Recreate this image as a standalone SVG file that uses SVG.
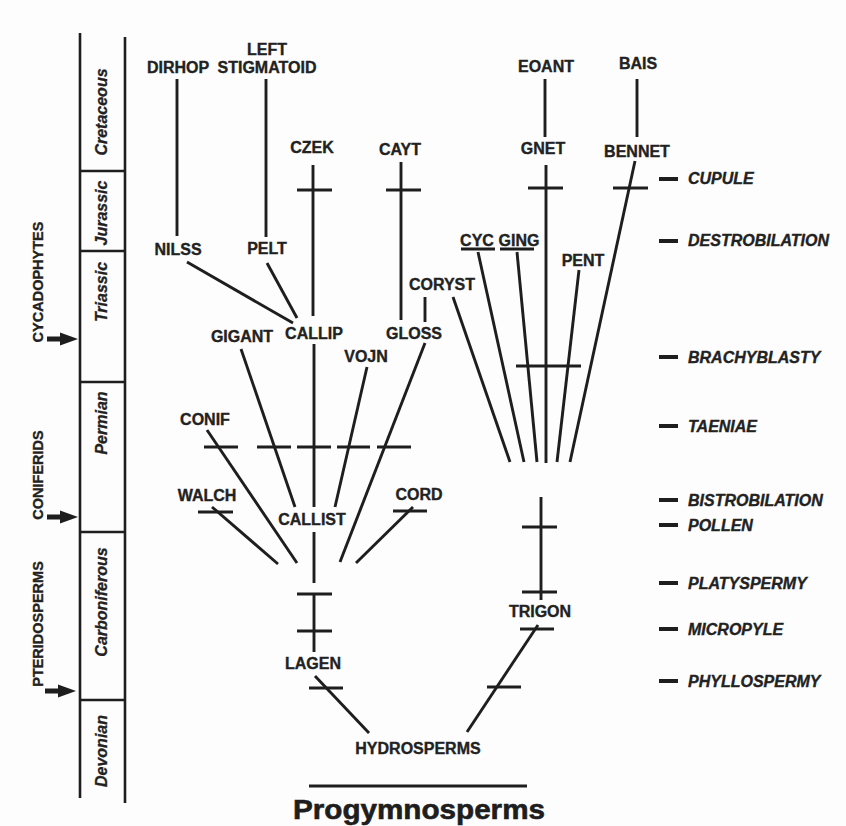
<svg xmlns="http://www.w3.org/2000/svg" width="846" height="826" viewBox="0 0 846 826">
<style>
  .bg{fill:#fdfdfd}
  .ln{stroke:#1e1e1e;stroke-width:2.9;fill:none;stroke-linecap:butt}
  .tl{stroke:#1e1e1e;stroke-width:2.6;fill:none}
  .tk{stroke:#1e1e1e;stroke-width:2.9;fill:none}
  .dash{stroke:#1e1e1e;stroke-width:4;fill:none}
  .nd{font-family:"Liberation Sans",Arial,sans-serif;font-weight:bold;font-size:16px;fill:#222;stroke:#222;stroke-width:0.35;text-anchor:middle}
  .ch{font-family:"Liberation Sans",Arial,sans-serif;font-weight:bold;font-style:italic;font-size:16px;fill:#222;stroke:#222;stroke-width:0.35}
  .per{font-family:"Liberation Sans",Arial,sans-serif;font-weight:bold;font-style:italic;font-size:16px;fill:#222;stroke:#222;stroke-width:0.3;text-anchor:middle}
  .grp{font-family:"Liberation Sans",Arial,sans-serif;font-weight:bold;font-size:14.5px;fill:#222;stroke:#222;stroke-width:0.35;text-anchor:middle}
  .arr{fill:#1e1e1e}
  .title{font-family:"Liberation Sans",Arial,sans-serif;font-weight:bold;font-size:27px;fill:#1e1e1e;stroke:#1e1e1e;stroke-width:0.6;text-anchor:middle}
</style>
<defs>
  <path id="arrow" d="M0,-2.6 L13,-2.6 L13,-6.5 L31,0 L13,6.5 L13,2.6 L0,2.6 Z"/>
</defs>
<rect class="bg" x="0" y="0" width="846" height="826"/>

<!-- Time scale -->
<g id="timescale">
  <line class="tl" x1="80" y1="33" x2="80" y2="798"/>
  <line class="tl" x1="125" y1="37" x2="125" y2="803"/>
  <line class="tl" x1="80" y1="171" x2="125" y2="171"/>
  <line class="tl" x1="80" y1="251" x2="125" y2="251"/>
  <line class="tl" x1="80" y1="382" x2="125" y2="382"/>
  <line class="tl" x1="80" y1="532" x2="125" y2="532"/>
  <line class="tl" x1="80" y1="700" x2="125" y2="700"/>
  <text class="per" x="107" y="112" transform="rotate(-90 107 112)">Cretaceous</text>
  <text class="per" x="107" y="213" transform="rotate(-90 107 213)">Jurassic</text>
  <text class="per" x="107" y="292" transform="rotate(-90 107 292)">Triassic</text>
  <text class="per" x="107" y="423" transform="rotate(-90 107 423)">Permian</text>
  <text class="per" x="107" y="602" transform="rotate(-90 107 602)">Carboniferous</text>
  <text class="per" x="107" y="751" transform="rotate(-90 107 751)">Devonian</text>
</g>

<!-- Group labels with arrows -->
<g id="group-cycadophytes">
  <text class="grp" x="43" y="282" transform="rotate(-90 43 282)">CYCADOPHYTES</text>
  <use href="#arrow" class="arr" x="47" y="339"/>
</g>
<g id="group-coniferids">
  <text class="grp" x="43" y="475" transform="rotate(-90 43 475)">CONIFERIDS</text>
  <use href="#arrow" class="arr" x="47" y="517"/>
</g>
<g id="group-pteridosperms">
  <text class="grp" x="43" y="624" transform="rotate(-90 43 624)">PTERIDOSPERMS</text>
  <use href="#arrow" class="arr" x="45" y="691"/>
</g>

<!-- Connectors -->
<g id="connectors">
  <!-- upper left -->
  <line class="ln" x1="177" y1="79" x2="177" y2="236"/>
  <line class="ln" x1="266" y1="79" x2="266" y2="237"/>
  <line class="ln" x1="187" y1="262" x2="293" y2="323"/>
  <line class="ln" x1="267" y1="263" x2="297" y2="318"/>
  <line class="ln" x1="313" y1="165" x2="313" y2="316"/>
  <line class="ln" x1="401" y1="162" x2="401" y2="320"/>
  <line class="ln" x1="425" y1="297" x2="425" y2="322"/>
  <!-- Callist fan -->
  <line class="ln" x1="241" y1="349" x2="295" y2="507"/>
  <line class="ln" x1="314" y1="344" x2="314" y2="507"/>
  <line class="ln" x1="367" y1="367" x2="335" y2="507"/>
  <line class="ln" x1="425" y1="343" x2="340" y2="562"/>
  <line class="ln" x1="207" y1="430" x2="297" y2="563"/>
  <line class="ln" x1="212" y1="507" x2="278" y2="564"/>
  <line class="ln" x1="413" y1="507" x2="356" y2="563"/>
  <line class="ln" x1="314" y1="532" x2="314" y2="583"/>
  <line class="ln" x1="314" y1="594" x2="314" y2="652"/>
  <line class="ln" x1="315" y1="676" x2="369" y2="733"/>
  <!-- right fan -->
  <line class="ln" x1="545" y1="79" x2="545" y2="137"/>
  <line class="ln" x1="637" y1="79" x2="637" y2="137"/>
  <line class="ln" x1="546" y1="165" x2="546" y2="463"/>
  <line class="ln" x1="635" y1="161" x2="570" y2="462"/>
  <line class="ln" x1="453" y1="297" x2="510" y2="462"/>
  <line class="ln" x1="478" y1="252" x2="524" y2="462"/>
  <line class="ln" x1="517" y1="252" x2="537" y2="462"/>
  <line class="ln" x1="579" y1="270" x2="557" y2="462"/>
  <!-- Trigon -->
  <line class="ln" x1="541" y1="497" x2="541" y2="600"/>
  <line class="ln" x1="538" y1="625" x2="467" y2="732"/>
  <!-- Progymnosperms bar -->
  <line class="ln" x1="309" y1="786" x2="527" y2="786"/>
  <!-- ticks (character state changes) -->
  <g id="ticks">
    <line class="tk" x1="297" y1="190" x2="332" y2="190"/>
    <line class="tk" x1="386" y1="190" x2="421" y2="190"/>
    <line class="tk" x1="528" y1="188" x2="563" y2="188"/>
    <line class="tk" x1="613" y1="188" x2="648" y2="188"/>
    <line class="tk" x1="461" y1="249" x2="495" y2="249"/>
    <line class="tk" x1="500" y1="249" x2="534" y2="249"/>
    <line class="tk" x1="516" y1="366" x2="581" y2="366"/>
    <line class="tk" x1="204" y1="447" x2="238" y2="447"/>
    <line class="tk" x1="257" y1="447" x2="291" y2="447"/>
    <line class="tk" x1="297" y1="447" x2="331" y2="447"/>
    <line class="tk" x1="337" y1="447" x2="370" y2="447"/>
    <line class="tk" x1="377" y1="447" x2="411" y2="447"/>
    <line class="tk" x1="198" y1="512" x2="233" y2="512"/>
    <line class="tk" x1="393" y1="511" x2="427" y2="511"/>
    <line class="tk" x1="522" y1="527" x2="557" y2="527"/>
    <line class="tk" x1="522" y1="592" x2="557" y2="592"/>
    <line class="tk" x1="297" y1="594" x2="332" y2="594"/>
    <line class="tk" x1="297" y1="631" x2="332" y2="631"/>
    <line class="tk" x1="520" y1="629" x2="554" y2="629"/>
    <line class="tk" x1="309" y1="688" x2="343" y2="688"/>
    <line class="tk" x1="487" y1="687" x2="521" y2="687"/>
  </g>
</g>

<!-- Nodes -->
<g id="node-dirhop"><text class="nd" x="178" y="73">DIRHOP</text></g>
<g id="node-leftstigmatoid"><text class="nd" x="267" y="55">LEFT</text><text class="nd" x="267" y="73">STIGMATOID</text></g>
<g id="node-czek"><text class="nd" x="312" y="153">CZEK</text></g>
<g id="node-cayt"><text class="nd" x="400" y="155">CAYT</text></g>
<g id="node-eoant"><text class="nd" x="546" y="72">EOANT</text></g>
<g id="node-bais"><text class="nd" x="638" y="69">BAIS</text></g>
<g id="node-gnet"><text class="nd" x="543" y="154">GNET</text></g>
<g id="node-bennet"><text class="nd" x="637" y="157">BENNET</text></g>
<g id="node-nilss"><text class="nd" x="178" y="255">NILSS</text></g>
<g id="node-pelt"><text class="nd" x="267" y="254">PELT</text></g>
<g id="node-cyc"><text class="nd" x="477" y="246">CYC</text></g>
<g id="node-ging"><text class="nd" x="519" y="246">GING</text></g>
<g id="node-pent"><text class="nd" x="583" y="266">PENT</text></g>
<g id="node-coryst"><text class="nd" x="442" y="290">CORYST</text></g>
<g id="node-gigant"><text class="nd" x="242" y="342">GIGANT</text></g>
<g id="node-callip"><text class="nd" x="314" y="339">CALLIP</text></g>
<g id="node-gloss"><text class="nd" x="414" y="339">GLOSS</text></g>
<g id="node-vojn"><text class="nd" x="366" y="362">VOJN</text></g>
<g id="node-conif"><text class="nd" x="205" y="425">CONIF</text></g>
<g id="node-walch"><text class="nd" x="207" y="501">WALCH</text></g>
<g id="node-cord"><text class="nd" x="419" y="500">CORD</text></g>
<g id="node-callist"><text class="nd" x="312" y="525">CALLIST</text></g>
<g id="node-lagen"><text class="nd" x="313" y="669">LAGEN</text></g>
<g id="node-trigon"><text class="nd" x="540" y="617">TRIGON</text></g>
<g id="node-hydrosperms"><text class="nd" x="418" y="754">HYDROSPERMS</text></g>
<g id="node-progymnosperms"><text class="title" x="419" y="819" textLength="252" lengthAdjust="spacingAndGlyphs">Progymnosperms</text></g>

<!-- Character legend -->
<g id="characters">
  <line class="dash" x1="659" y1="179" x2="678" y2="179"/><text class="ch" x="688" y="184">CUPULE</text>
  <line class="dash" x1="659" y1="241" x2="678" y2="241"/><text class="ch" x="688" y="246">DESTROBILATION</text>
  <line class="dash" x1="659" y1="357" x2="678" y2="357"/><text class="ch" x="688" y="363">BRACHYBLASTY</text>
  <line class="dash" x1="659" y1="426" x2="678" y2="426"/><text class="ch" x="688" y="432">TAENIAE</text>
  <line class="dash" x1="659" y1="500" x2="678" y2="500"/><text class="ch" x="688" y="506">BISTROBILATION</text>
  <line class="dash" x1="659" y1="525" x2="678" y2="525"/><text class="ch" x="688" y="531">POLLEN</text>
  <line class="dash" x1="659" y1="583" x2="678" y2="583"/><text class="ch" x="688" y="589">PLATYSPERMY</text>
  <line class="dash" x1="659" y1="629" x2="678" y2="629"/><text class="ch" x="688" y="635">MICROPYLE</text>
  <line class="dash" x1="659" y1="681" x2="678" y2="681"/><text class="ch" x="688" y="687">PHYLLOSPERMY</text>
</g>
</svg>
